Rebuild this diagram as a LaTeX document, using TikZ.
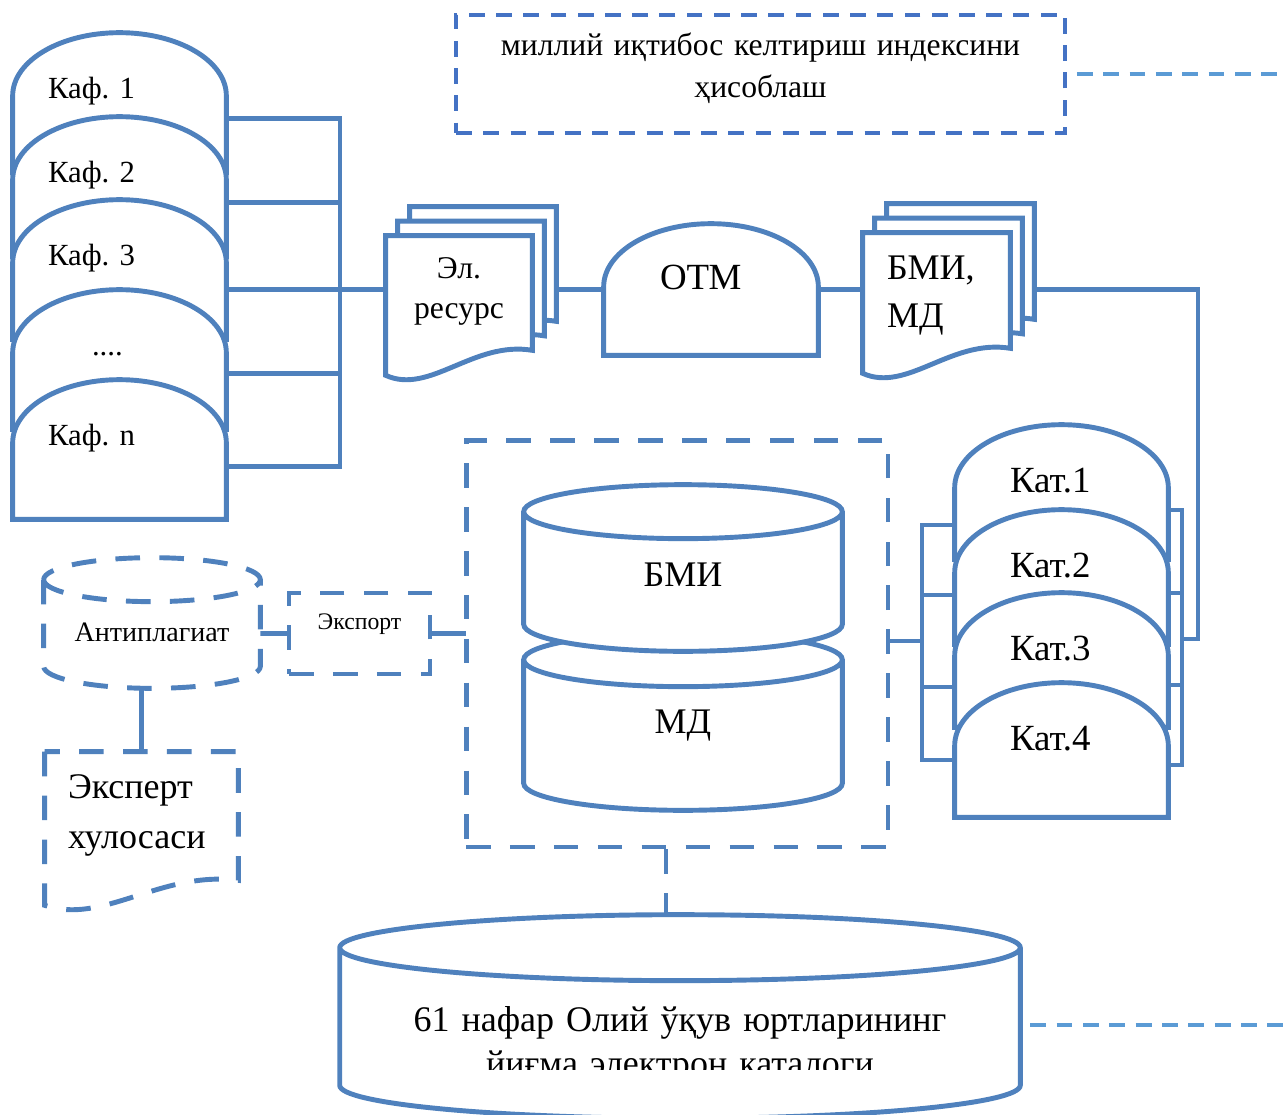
\documentclass[tikz,border=0pt]{standalone}
\usepackage{fontspec}
\setmainfont{Liberation Serif}
\usepackage{tikz}
\usepackage{xcolor}
\usetikzlibrary{calc}
\frenchspacing

\definecolor{shapeblue}{RGB}{79,129,189}
\definecolor{topblue}{RGB}{68,114,196}
\definecolor{lightblue}{RGB}{91,155,213}

\pgfdeclarelayer{links}
\pgfdeclarelayer{shapes}
\pgfsetlayers{links,shapes,main}

\newcommand{\tombshape}[2][]{%
  \begin{pgfonlayer}{shapes}
    \draw[shapeline,#1] let \p1=(#2.south west), \p2=(#2.north east), \n1={(\x2-\x1)/2} in
      (\p1) -- (\x1,\y2-1.26cm) arc[start angle=180, end angle=0, x radius=\n1, y radius=1.26cm]
      -- (\x2,\y1) -- cycle;
  \end{pgfonlayer}}

\newcommand{\cylshape}[3][]{%
  \begin{pgfonlayer}{shapes}
    \draw[shapeline,#1] let \p1=(#2.south west), \p2=(#2.north east), \n1={(\x2-\x1)/2} in
      (\x1,\y2-#3) -- (\x1,\y1+#3) arc[start angle=180, end angle=360, x radius=\n1, y radius=#3]
      -- (\x2,\y2-#3) arc[start angle=0, end angle=180, x radius=\n1, y radius=#3] -- cycle
      (\x1,\y2-#3) arc[start angle=180, end angle=360, x radius=\n1, y radius=#3];
  \end{pgfonlayer}}

\newcommand{\docsheet}[4][]{%
  \draw[shapeline,#1] let \p1=(#2.south west), \p2=(#2.north east), \n1={\x2-\x1} in
    (\x1+#3,\y2+#4) -- (\x1+#3,\y1+#4)
    .. controls (\x1+#3+0.3*\n1,\y1+#4-0.4cm) and (\x1+#3+0.6*\n1,\y1+#4+0.7cm) ..
    (\x2+#3,\y1+#4+0.5cm) -- (\x2+#3,\y2+#4) -- cycle;}

\newcommand{\docshape}[2][]{%
  \begin{pgfonlayer}{shapes}
    \docsheet[#1]{#2}{0cm}{0cm}
  \end{pgfonlayer}}

\newcommand{\docstack}[1]{%
  \begin{pgfonlayer}{shapes}
    \docsheet{#1}{0.48cm}{0.58cm}
    \docsheet{#1}{0.24cm}{0.29cm}
    \docsheet{#1}{0cm}{0cm}
  \end{pgfonlayer}}

\begin{document}
\begin{tikzpicture}[x=0.02cm, y=-0.02cm]
    \tikzstyle{shapeline} = [draw=shapeblue, line width=2.8pt, fill=white]
    \tikzstyle{link} = [draw=shapeblue, line width=2.8pt, line cap=rect]
    \tikzstyle{dashline} = [dash pattern=on 14pt off 11pt]
    \tikzstyle{lightdash} = [draw=lightblue, line width=2.3pt, dash pattern=on 9pt off 6pt]
    \tikzstyle{plainframe} = [rectangle, draw=none, inner sep=0pt]
    \tikzstyle{kafbox} = [plainframe, minimum width=4.26cm, minimum height=2.78cm, text width=2.86cm, align=left, text height=12pt, text depth=17.1pt, font=\fontsize{17.5}{21}\selectfont]
    \tikzstyle{katbox} = [plainframe, minimum width=4.26cm, minimum height=2.68cm, text width=2.06cm, align=left, text height=16pt, text depth=16pt, font=\fontsize{21}{25}\selectfont]
    \tikzstyle{otmbox} = [plainframe, minimum width=4.28cm, minimum height=2.62cm, text width=2.04cm, align=left, text height=15pt, text depth=15pt, font=\fontsize{21}{25}\selectfont]
    \tikzstyle{docbox} = [plainframe, minimum width=2.92cm, minimum height=2.78cm, text width=2.92cm, align=center, text height=10pt, text depth=41.3pt, font=\fontsize{18}{23}\selectfont]
    \tikzstyle{bmibox} = [plainframe, minimum width=2.94cm, minimum height=2.8cm, text width=1.98cm, align=left, text height=10pt, text depth=36.2pt, font=\fontsize{20.5}{27.3}\selectfont]
    \tikzstyle{cylbox} = [plainframe, minimum width=6.36cm, text width=5cm, align=center, font=\fontsize{20.5}{25}\selectfont]
    \tikzstyle{catbox} = [plainframe, minimum width=13.6cm, minimum height=4.06cm, text width=12cm, align=center, text height=28pt, text depth=10.4pt, font=\fontsize{20.5}{25}\selectfont]
    \tikzstyle{antibox} = [plainframe, minimum width=4.32cm, minimum height=2.6cm, text width=4cm, align=center, text height=24pt, text depth=3.5pt, font=\fontsize{16}{19}\selectfont]
    \tikzstyle{exportbox} = [rectangle, draw=shapeblue, line width=2.8pt, dashline, inner sep=0pt, minimum width=2.82cm, minimum height=1.62cm, text width=2.6cm, align=center, text height=8pt, text depth=12.6pt, font=\fontsize{13.5}{16}\selectfont]
    \tikzstyle{expertbox} = [plainframe, minimum width=3.86cm, minimum height=3.06cm, text width=2.94cm, align=left, text height=10pt, text depth=43.6pt, font=\fontsize{20.5}{27.9}\selectfont]
    \tikzstyle{calcbox} = [rectangle, draw=topblue, line width=2.2pt, dash pattern=on 9pt off 6.5pt, inner sep=0pt, minimum width=12.18cm, minimum height=2.36cm, text width=11.5cm, align=center, text height=10pt, text depth=31.6pt, font=\fontsize{18}{23.9}\selectfont]

    \useasboundingbox (0,0) rectangle (1284,1115);

    \node (kaf1) [kafbox] at (119.5,102.5) {Каф. 1};
    \tombshape{kaf1}
    \node (kaf2) [kafbox] at (119.5,186.5) {Каф. 2};
    \tombshape{kaf2}
    \node (kaf3) [kafbox] at (119.5,269.5) {Каф. 3};
    \tombshape{kaf3}
    \node (kaf4) [kafbox] at (119.5,359.5) {\hspace*{0.88cm}....};
    \tombshape{kaf4}
    \node (kafn) [kafbox] at (119.5,449.5) {Каф. n};
    \tombshape{kafn}

    \node (elres) [docbox] at (459,305.5) {Эл.\\ресурс};
    \docstack{elres}
    \node (otm) [otmbox] at (711,289.5) {ОТМ};
    \tombshape{otm}
    \node (bmidoc) [bmibox] at (936.5,303) {БМИ,\\МД};
    \docstack{bmidoc}

    \node (indexcalc) [calcbox] at (760.5,74) {миллий иқтибос келтириш индексини\\ҳисоблаш};

    \node (kat1) [katbox] at (1061.5,492) {Кат.1};
    \tombshape{kat1}
    \node (kat2) [katbox] at (1061.5,577) {Кат.2};
    \tombshape{kat2}
    \node (kat3) [katbox] at (1061.5,660) {Кат.3};
    \tombshape{kat3}
    \node (kat4) [katbox] at (1061.5,750) {Кат.4};
    \tombshape{kat4}

    \node (dbbox) [rectangle, draw=shapeblue, line width=2.8pt, dashline, minimum width=8.44cm, minimum height=8.14cm] at (677,643.5) {};
    \node (md) [cylbox, minimum height=3.54cm, text height=24pt, text depth=9.8pt] at (683,721.5) {МД};
    \cylshape{md}{0.54cm}
    \node (bmi) [cylbox, minimum height=3.32cm, text height=30pt, text depth=8.4pt] at (683,568) {БМИ};
    \cylshape{bmi}{0.54cm}

    \node (antipl) [antibox] at (152,623) {Антиплагиат};
    \cylshape[dashline]{antipl}{0.44cm}
    \node (export) [exportbox] at (359.5,633.5) {Экспорт};
    \node (expert) [expertbox] at (141.5,828.5) {Эксперт\\хулосаси};
    \docshape[dashline]{expert}

    \begin{scope}
        \clip (0,0) rectangle (1284,1069);
        \node (katalog) [catbox] at (680,1016.5) {61 нафар Олий ўқув юртларининг\\йиғма электрон каталоги};
    \end{scope}
    \cylshape{katalog}{0.66cm}

    \coordinate (edgetop) at (1284,74);
    \coordinate (edgebottom) at (1284,1025);

    \begin{pgfonlayer}{links}
        \draw [link] ([shift={(0,16)}]kaf1.center) -- ++(220.5,0) coordinate (bus1);
        \draw [link] ([shift={(0,16)}]kaf2.center) -- ++(220.5,0);
        \draw [link] ([shift={(0,14)}]kaf4.center) -- ++(220.5,0);
        \draw [link] ([shift={(0,17)}]kafn.center) -- ++(220.5,0) coordinate (bus2);
        \draw [link] (bus1) -- (bus2);

        \draw [link] ([shift={(0,33)}]kat1.center) -- ++(-139.5,0) coordinate (lk1);
        \draw [link] ([shift={(0,18)}]kat2.center) -- ++(-139.5,0) coordinate (lk2);
        \draw [link] ([shift={(0,27)}]kat3.center) -- ++(-139.5,0) coordinate (lk3);
        \draw [link] ([shift={(0,10)}]kat4.center) -- ++(-139.5,0) coordinate (lk4);
        \draw [link] (lk1) -- (lk4);
        \draw [link] ($(lk2)!0.5!(lk3)$) coordinate (lmid) -- (lmid -| dbbox.east);

        \draw [link] ([shift={(0,18)}]kat1.center) -- ++(120.5,0) coordinate (rk1);
        \draw [link] ([shift={(0,16)}]kat2.center) -- ++(120.5,0) coordinate (rk2);
        \draw [link] ([shift={(0,25)}]kat3.center) -- ++(120.5,0) coordinate (rk3);
        \draw [link] ([shift={(0,15)}]kat4.center) -- ++(120.5,0) coordinate (rk4);
        \draw [link] (rk1) -- (rk4);
        \draw [link] ($(rk2)!0.5!(rk3)$) coordinate (rmid) -- ++(16,0) |- (kaf3.center |- otm.center);

        \draw [link] (export.west) -- (export.west -| antipl.center);
        \draw [link] (export.east) -- (export.east -| dbbox.west);
        \draw [link] (expert.north) -- (expert.north |- antipl.center);
        \draw [link, line cap=butt, dashline] (dbbox.south) ++(-11,0) coordinate (dstart) -- (dstart |- katalog.north);
    \end{pgfonlayer}

    \draw [lightdash] (indexcalc.east) ++(10,0) -- (edgetop);
    \draw [lightdash] (katalog.east |- edgebottom) ++(10,0) -- (edgebottom);
\end{tikzpicture}
\end{document}
